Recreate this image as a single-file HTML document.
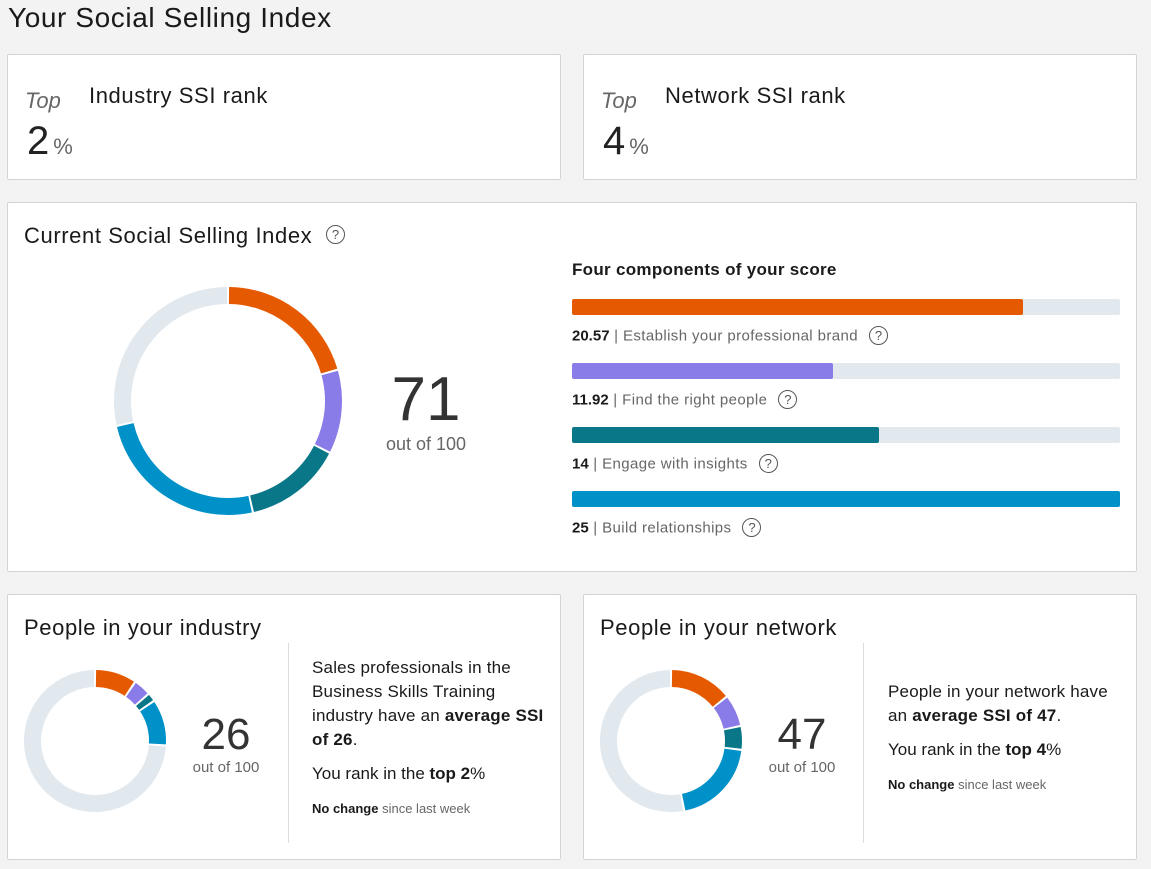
<!DOCTYPE html>
<html><head><meta charset="utf-8">
<style>
body{margin:0;width:1151px;height:869px;background:#f3f3f3;font-family:"Liberation Sans",sans-serif;position:relative;overflow:hidden;color:#1a1a1a}
.card{position:absolute;background:#fff;border:1px solid #d4d4d4;border-radius:2px;box-sizing:border-box}
.t{position:absolute;white-space:nowrap}
.help{position:absolute;width:17px;height:17px;border:1.3px solid #555;border-radius:50%;font-size:13px;color:#555;text-align:center;line-height:17px;box-sizing:content-box}
.gray{color:#666}
.ls{letter-spacing:0.6px}
</style></head><body>
<div class="t ls" style="left:8px;top:2px;font-size:28px">Your Social Selling Index</div>

<div class="card" style="left:7px;top:54px;width:554px;height:126px"></div>
<div class="t gray" style="left:25px;top:88px;font-size:22px;font-style:italic">Top</div>
<div class="t" style="left:27px;top:119px;font-size:40px;color:#222">2<span style="font-size:22px;color:#666;margin-left:4px">%</span></div>
<div class="t ls" style="left:89px;top:83px;font-size:22px">Industry SSI rank</div>

<div class="card" style="left:583px;top:54px;width:554px;height:126px"></div>
<div class="t gray" style="left:601px;top:88px;font-size:22px;font-style:italic">Top</div>
<div class="t" style="left:603px;top:119px;font-size:40px;color:#222">4<span style="font-size:22px;color:#666;margin-left:4px">%</span></div>
<div class="t ls" style="left:665px;top:83px;font-size:22px">Network SSI rank</div>

<div class="card" style="left:7px;top:202px;width:1130px;height:370px"></div>
<div class="t ls" style="left:24px;top:223px;font-size:22px">Current Social Selling Index</div>
<div class="help" style="left:326px;top:225px">?</div>
<div class="t" style="left:376px;top:364px;width:100px;text-align:center;font-size:62px;color:#333">71</div>
<div class="t gray" style="left:366px;top:434px;width:120px;text-align:center;font-size:18px">out of 100</div>
<div class="t" style="left:572px;top:260px;font-size:17px;font-weight:bold;letter-spacing:0.3px">Four components of your score</div>
<div id="bars"></div>

<div class="card" style="left:7px;top:594px;width:554px;height:266px"></div>
<div class="t ls" style="left:24px;top:615px;font-size:22px">People in your industry</div>
<div style="position:absolute;left:288px;top:643px;width:1px;height:200px;background:#ddd"></div>
<div class="t" style="left:186px;top:710px;width:80px;text-align:center;font-size:44px;color:#333">26</div>
<div class="t gray" style="left:176px;top:759px;width:100px;text-align:center;font-size:15px">out of 100</div>
<div class="t" style="left:312px;top:656px;font-size:17px;line-height:24px;letter-spacing:0.2px">Sales professionals in the<br>Business Skills Training<br>industry have an <b>average SSI</b><br><b>of 26</b>.</div>
<div class="t" style="left:312px;top:764px;font-size:17px">You rank in the <b>top 2</b>%</div>
<div class="t" style="left:312px;top:801px;font-size:13px"><b>No change</b> <span class="gray">since last week</span></div>

<div class="card" style="left:583px;top:594px;width:554px;height:266px"></div>
<div class="t ls" style="left:600px;top:615px;font-size:22px">People in your network</div>
<div style="position:absolute;left:863px;top:643px;width:1px;height:200px;background:#ddd"></div>
<div class="t" style="left:762px;top:710px;width:80px;text-align:center;font-size:44px;color:#333">47</div>
<div class="t gray" style="left:752px;top:759px;width:100px;text-align:center;font-size:15px">out of 100</div>
<div class="t" style="left:888px;top:680px;font-size:17px;line-height:24px;letter-spacing:0.2px">People in your network have<br>an <b>average SSI of 47</b>.</div>
<div class="t" style="left:888px;top:740px;font-size:17px">You rank in the <b>top 4</b>%</div>
<div class="t" style="left:888px;top:777px;font-size:13px"><b>No change</b> <span class="gray">since last week</span></div>

<svg id="svg" width="1151" height="869" style="position:absolute;left:0;top:0;pointer-events:none"></svg>

<script>
const componentNames = ["Establish your professional brand","Find the right people","Engage with insights","Build relationships"];
const componentScores = [20.57, 11.92, 14, 25];
const componentLabels = ["20.57","11.92","14","25"];
const industryScores = [9.5, 4, 2, 10.5];
const networkScores = [14.3, 7.3, 5.4, 20];
const colors = ["#e55a00","#8a7ce8","#0a7788","#0091c9"];
const componentMax = 25, totalMax = 100;

const NS="http://www.w3.org/2000/svg";
const svg=document.getElementById('svg');
function arc(cx,cy,r,a0,a1){
  const p=a=>[cx+r*Math.sin(a),cy-r*Math.cos(a)];
  const [x0,y0]=p(a0),[x1,y1]=p(a1);
  return `M${x0},${y0} A${r},${r} 0 ${a1-a0>Math.PI?1:0} 1 ${x1},${y1}`;
}
function donut(name,cx,cy,outer,th,vals){
  const r=outer-th/2, gap=2/r;
  let acc=0;
  const all=vals.concat([totalMax-vals.reduce((a,b)=>a+b,0)]);
  all.forEach((v,i)=>{
    const a0=acc/totalMax*2*Math.PI, a1=(acc+v)/totalMax*2*Math.PI;
    acc+=v;
    const path=document.createElementNS(NS,'path');
    path.setAttribute('d',arc(cx,cy,r,a0+gap/2,a1-gap/2));
    path.setAttribute('fill','none');
    path.setAttribute('stroke',i<vals.length?colors[i]:'#e1e8ee');
    path.setAttribute('stroke-width',th);
    
    
    svg.appendChild(path);
  });
}
donut('main-donut',228,401,114,17,componentScores);
donut('industry-donut',95,741,71,17,industryScores);
donut('network-donut',671,741,71,17,networkScores);

const bars=document.getElementById('bars');
const bx=572,bw=548;
componentScores.forEach((v,i)=>{
  const y=299+i*64;
  const track=document.createElement('div');
  track.style.cssText=`position:absolute;left:${bx}px;top:${y}px;width:${bw}px;height:16px;background:#e1e8ee;border-radius:2px`;
  
  
  const fill=document.createElement('div');
  fill.style.cssText=`width:${v/componentMax*bw}px;height:16px;background:${colors[i]};border-radius:2px`;
  
  
  track.appendChild(fill);
  bars.appendChild(track);
  const lab=document.createElement('div');
  lab.className='t';
  lab.style.cssText=`left:${bx}px;top:${y+28}px;font-size:15px;color:#666;letter-spacing:0.4px`;
  lab.innerHTML=`<b style="color:#1a1a1a;letter-spacing:0">${componentLabels[i]}</b> | ${componentNames[i]}<span class="help" style="position:relative;display:inline-block;left:11px;top:-1px;width:17px;height:17px;line-height:17px;vertical-align:middle;font-size:13px;letter-spacing:0">?</span>`;
  
  
  bars.appendChild(lab);
});
</script>
</body></html>
